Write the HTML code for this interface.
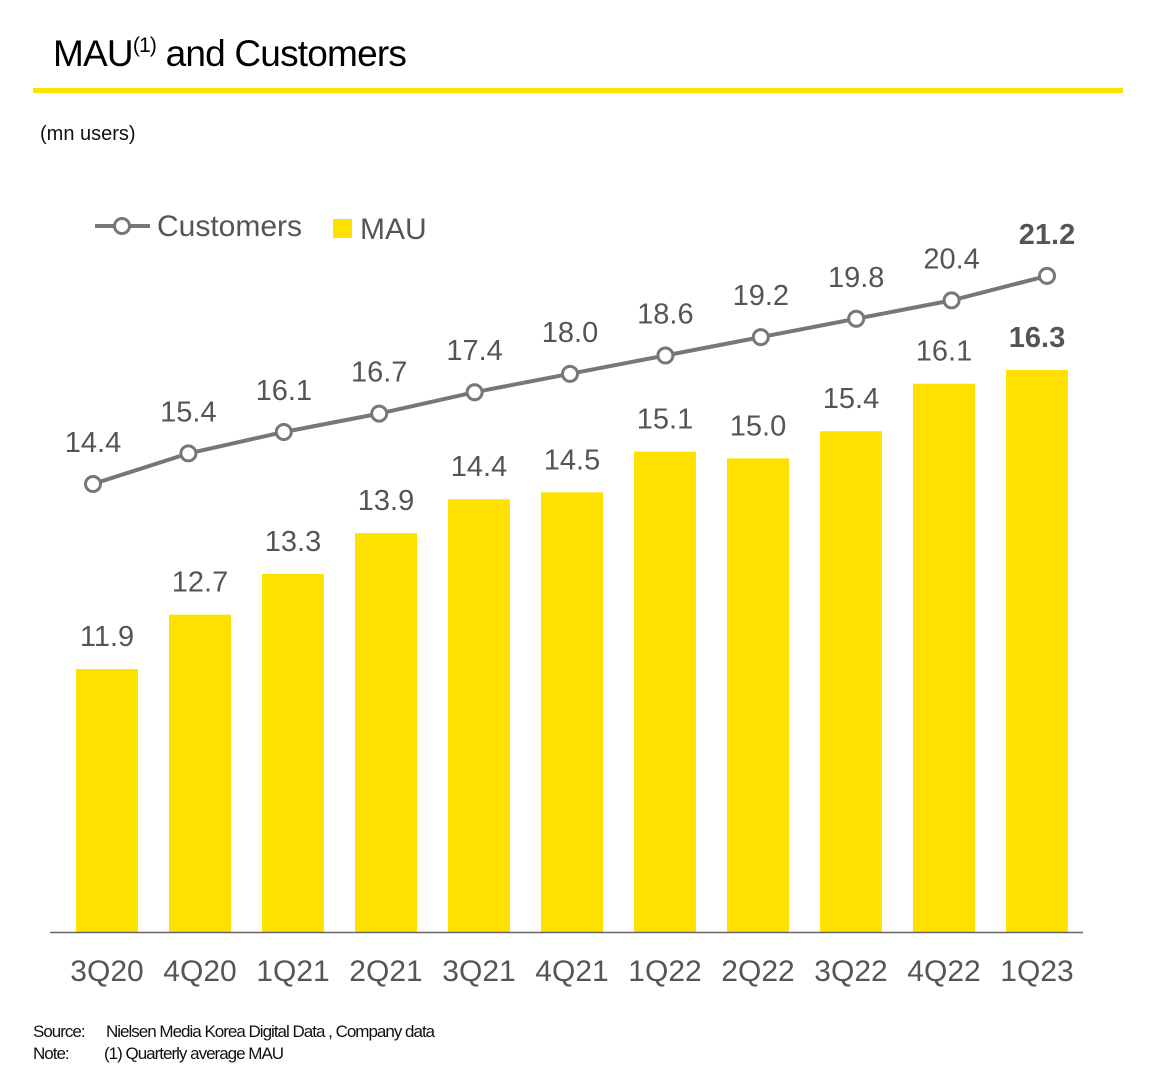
<!DOCTYPE html>
<html><head><meta charset="utf-8">
<style>
body{margin:0;background:#fff;width:1156px;height:1066px;overflow:hidden;font-family:"Liberation Sans","DejaVu Sans",sans-serif;}
</style></head>
<body>
<svg id="chart" width="1156" height="1066" xmlns="http://www.w3.org/2000/svg" font-family="Liberation Sans, DejaVu Sans, sans-serif">
<text x="53" y="66" font-size="37" fill="#000" letter-spacing="-0.8">MAU<tspan font-size="21" dy="-14">(1)</tspan><tspan dy="14"> and Customers</tspan></text>
<rect x="33" y="88" width="1090" height="5" fill="#FFE100"/>
<text x="40" y="140" font-size="20" fill="#111">(mn users)</text>
<g>
<line x1="95" y1="226" x2="150" y2="226" stroke="#777" stroke-width="4"/>
<circle cx="122" cy="226" r="7.5" fill="#fff" stroke="#777" stroke-width="3"/>
<text x="157" y="236" font-size="30" fill="#555">Customers</text>
<rect x="333" y="219" width="19" height="19" fill="#FFE100"/>
<text x="360" y="239" font-size="30" fill="#555">MAU</text>
</g>
<g id="bars"></g><g id="line"></g><g id="labels"></g>
<line x1="50" y1="932.5" x2="1083" y2="932.5" stroke="#666" stroke-width="1.5"/>
<text x="33" y="1037" font-size="17" fill="#111" letter-spacing="-1">Source:<tspan x="106">Nielsen Media Korea Digital Data , Company data</tspan></text>
<text x="33" y="1059" font-size="17" fill="#111" letter-spacing="-1">Note:<tspan x="104">(1) Quarterly average MAU</tspan></text>
</svg>
<script>
const categories=["3Q20","4Q20","1Q21","2Q21","3Q21","4Q21","1Q22","2Q22","3Q22","4Q22","1Q23"];
const mauValues=[11.9,12.7,13.3,13.9,14.4,14.5,15.1,15.0,15.4,16.1,16.3];
const customerValues=[14.4,15.4,16.1,16.7,17.4,18.0,18.6,19.2,19.8,20.4,21.2];
const NS="http://www.w3.org/2000/svg";
function xPos(i){return 107+i*93;}
function xLine(i){return 93+i*95.4;}
function yBar(v){return 932-(v-8.03)*67.95;}
function yLine(v){return 484-(v-14.4)*30.6;}
function mk(tag,attrs,parent){const e=document.createElementNS(NS,tag);for(const k in attrs)e.setAttribute(k,attrs[k]);document.getElementById(parent).appendChild(e);return e;}
const last=categories.length-1;
categories.forEach((c,i)=>{
  const x=xPos(i),yt=yBar(mauValues[i]);
  const b=mk("rect",{x:x-31,y:yt,width:62,height:932-yt,fill:"#FFE100"},"bars");
  
  
  const t=mk("text",{x:x,y:yt-23,"font-size":"29","text-anchor":"middle",fill:"#555","font-weight":i==last?"bold":"normal"},"labels");
  t.textContent=mauValues[i].toFixed(1);
  
  
  const ct=mk("text",{x:x,y:981,"font-size":"30","text-anchor":"middle",fill:"#555"},"labels");
  ct.textContent=c;
  
  
  const lt=mk("text",{x:xLine(i),y:yLine(customerValues[i])-32,"font-size":"29","text-anchor":"middle",fill:"#555","font-weight":i==last?"bold":"normal"},"labels");
  lt.textContent=customerValues[i].toFixed(1);
  
  
});
const pts=customerValues.map((v,i)=>xLine(i)+","+yLine(v)).join(" ");
const pl=mk("polyline",{points:pts,fill:"none",stroke:"#777","stroke-width":"4"},"line");


customerValues.forEach((v,i)=>{
  const c=mk("circle",{cx:xLine(i),cy:yLine(v),r:7.5,fill:"#fff",stroke:"#777","stroke-width":"3"},"line");
  
  
});
</script>
</body></html>
